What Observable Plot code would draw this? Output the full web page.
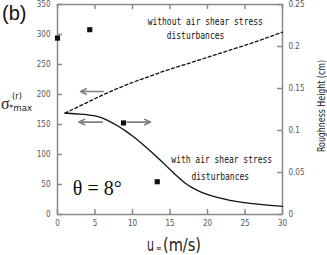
<!DOCTYPE html>
<html><head><meta charset="utf-8">
<script src="https://cdn.jsdelivr.net/npm/d3@7"></script>
<script src="https://cdn.jsdelivr.net/npm/@observablehq/plot@0.6"></script>
<style>body{margin:0;background:#fff}#c{width:327px;height:255px}</style>
</head><body><div id="c"></div>
<script>
// ---- data ----
const uWith = [1, 3, 5, 6, 7, 8, 9, 10, 11, 12, 13, 14, 15, 16, 17, 18, 19, 20, 22, 24, 26, 28, 30];
const sigmaWith = [169, 167.5, 165, 161, 155, 148, 140, 131, 121, 110, 99, 87, 75, 63, 52, 44, 38, 33, 26, 21, 18, 15.5, 13.5];
const uWithout = [1, 2, 4, 6, 8, 10, 12, 14, 16, 18, 20, 22, 24, 26, 28, 30];
const sigmaWithout = [169, 175, 187, 199, 210, 220, 229, 238, 246, 254, 262, 270, 278, 286, 295, 304];
const uRough = [0, 4.3, 8.8, 13.3];
const roughness = [0.21, 0.22, 0.109, 0.039];
const xTicks = [0, 5, 10, 15, 20, 25, 30];
const yTicks = [0, 50, 100, 150, 200, 250, 300, 350];
const rTicks = [0, 0.05, 0.1, 0.15, 0.2, 0.25];
const rTickLabels = ["0", "0.05", "0.1", "0.15", "0.2", "0.25"];
const arrowFromU = [6.1, 5.96, 9.3];
const arrowToU = [3.07, 2.84, 12.4];
const arrowSigma = [205, 154, 154];
const noteU = [19.7, 18.4, 21.9, 21.7];
const noteSigma = [322, 298, 92, 63];
const noteText = ["without air shear stress", "disturbances", "with air shear stress", "disturbances"];
const thetaText = ["θ = 8°"];
const thetaU = [5.3];
const thetaSigma = [44];

const K = 350 / 0.25; // right axis (cm) -> left axis units

const withData = uWith.map((u, i) => ({u, s: sigmaWith[i]}));
const withoutData = uWithout.map((u, i) => ({u, s: sigmaWithout[i]}));
const roughData = uRough.map((u, i) => ({u, s: roughness[i] * K}));
const arrows = arrowFromU.map((u, i) => ({x1: u, x2: arrowToU[i], y: arrowSigma[i]}));
const notes = noteText.map((t, i) => ({t, u: noteU[i], s: noteSigma[i]}));
const theta = thetaText.map((t, i) => ({t, u: thetaU[i], s: thetaSigma[i]}));

const axisColor = "#8a8a8a";
const tickFont = "'Liberation Sans Narrow','DejaVu Sans Condensed',sans-serif";

const chart = Plot.plot({
  width: 327, height: 255,
  marginTop: 4, marginBottom: 41, marginLeft: 57, marginRight: 45,
  style: {fontFamily: tickFont, fontSize: "8px", color: "#555", background: "#fff"},
  x: {domain: [0, 30]},
  y: {domain: [0, 350]},
  marks: [
    Plot.tickX(xTicks, {x: d => d, insetBottom: 205, stroke: axisColor, strokeWidth: 1.5}),
    Plot.tickX(xTicks, {x: d => d, insetTop: 205, stroke: axisColor, strokeWidth: 1.5}),
    Plot.tickY(yTicks, {y: d => d, insetRight: 220, stroke: axisColor, strokeWidth: 1.5}),
    Plot.tickY(rTicks, {y: d => d * K, insetLeft: 220, stroke: axisColor, strokeWidth: 1.5}),
    Plot.frame({stroke: axisColor, strokeWidth: 1.5}),
    Plot.axisX({anchor: "bottom", ticks: xTicks, tickSize: 0, tickPadding: 6, label: null}),
    Plot.axisY({anchor: "left", ticks: yTicks, tickSize: 0, tickPadding: 7, label: null}),
    Plot.axisY({anchor: "right", ticks: rTicks.map(r => r * K), tickSize: 0, tickPadding: 6, label: null,
      tickFormat: d => rTickLabels[rTicks.findIndex(r => Math.abs(r * K - d) < 1e-6)]}),
    Plot.line(withoutData, {x: "u", y: "s", curve: "monotone-x", stroke: "#111", strokeWidth: 1.3, strokeDasharray: "3,2.5"}),
    Plot.line(withData, {x: "u", y: "s", curve: "basis", stroke: "#111", strokeWidth: 1.3}),
    Plot.dot(roughData, {x: "u", y: "s", symbol: "square", fill: "#111", r: 2.9}),
    Plot.arrow(arrows, {x1: "x1", x2: "x2", y1: "y", y2: "y", stroke: "#808080", strokeWidth: 1.6, headLength: 6, headAngle: 50}),
    Plot.text(notes, {x: "u", y: "s", text: "t", fill: "#111", fontSize: 11, fontFamily: "'DejaVu Sans Mono',monospace", className: "note"}),
    Plot.text(theta, {x: "u", y: "s", text: "t", fill: "#111", fontSize: 20, fontFamily: "'Liberation Serif','DejaVu Serif',serif"})
  ]
});

const svg = d3.select(chart);
svg.selectAll(".note text").each(function() {
  const n = this.textContent.length;
  d3.select(this).attr("textLength", n * 4.8).attr("lengthAdjust", "spacingAndGlyphs");
});

// (b)
svg.append("text").attr("x", 2).attr("y", 20).attr("text-anchor", "start")
  .attr("font-family", "'Liberation Sans',Arial,sans-serif")
  .attr("font-size", 20).attr("fill", "#111").text("(b)");

// y-axis title σ*max^(r)
const yl = svg.append("g").attr("fill", "#222").attr("text-anchor", "start");
yl.append("text").attr("x", 1).attr("y", 109).attr("font-family", "'Liberation Serif',serif").attr("font-size", 16).text("σ");
yl.append("text").attr("x", 9).attr("y", 111).attr("font-family", tickFont).attr("font-size", 9)
  .attr("textLength", 23).attr("lengthAdjust", "spacingAndGlyphs").text("*max");
yl.append("text").attr("x", 12).attr("y", 99).attr("font-family", tickFont).attr("font-size", 9)
  .attr("textLength", 10).attr("lengthAdjust", "spacingAndGlyphs").text("(r)");

// x-axis title u∞ (m/s)
const xg = svg.append("g").attr("fill", "#222").attr("text-anchor", "start")
  .attr("font-family", "'DejaVu Sans Condensed',sans-serif");
xg.append("text").attr("x", 147).attr("y", 251).attr("font-size", 18)
  .attr("textLength", 7).attr("lengthAdjust", "spacingAndGlyphs").text("u");
xg.append("text").attr("x", 156).attr("y", 251).attr("font-size", 8)
  .attr("textLength", 6).attr("lengthAdjust", "spacingAndGlyphs").text("∞");
xg.append("text").attr("x", 163).attr("y", 251).attr("font-size", 17)
  .attr("textLength", 38).attr("lengthAdjust", "spacingAndGlyphs").text("(m/s)");

// right axis title
svg.append("text").attr("transform", "translate(322,106) rotate(-90)").attr("text-anchor", "middle")
  .attr("dominant-baseline", "middle").attr("fill", "#222")
  .attr("font-family", tickFont).attr("font-size", 10)
  .attr("textLength", 92).attr("lengthAdjust", "spacingAndGlyphs").text("Roughness Height (cm)");

document.getElementById("c").appendChild(chart);
</script></body></html>
